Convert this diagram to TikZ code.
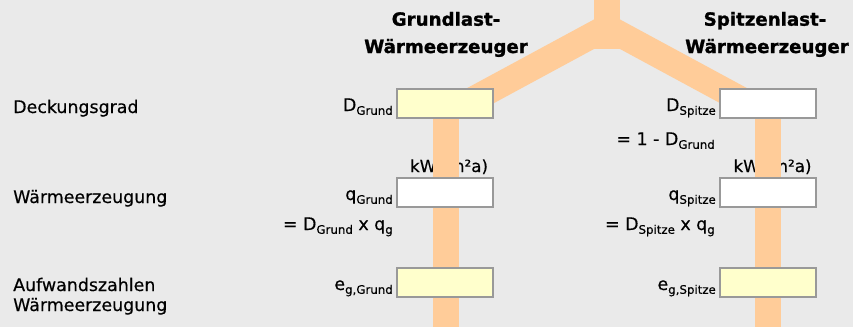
\documentclass[tikz,border=0pt]{standalone}
\usepackage{fontspec}
\setmainfont{DejaVu Sans}[FakeBold=0.4, BoldFeatures={FakeBold=1.2}]
\definecolor{bg}{HTML}{EAEAEA}
\definecolor{pipe}{HTML}{FFCC99}
\definecolor{inputfill}{HTML}{FFFFCC}
\definecolor{frame}{HTML}{999999}
% lowered, smaller index text
\newcommand{\lo}[1]{\raisebox{-3.8pt}{\fontsize{11.8}{12}\selectfont #1}}
\begin{document}
\begin{tikzpicture}[x=1pt,y=-1pt,
  txt/.style={inner sep=0pt, font=\fontsize{17.4}{20}\selectfont},
  rowlabel/.style={txt, anchor=base west},
  lbl/.style={txt, anchor=base east},
  head/.style={inner sep=0pt, font=\fontsize{18.2}{21}\selectfont\bfseries, anchor=base},
  unit/.style={inner sep=0pt, font=\fontsize{16.7}{20}\selectfont, anchor=base},
  pipeline/.style={draw=pipe, line width=26pt},
  field/.style={draw=frame, line width=2pt, minimum width=96pt, minimum height=29pt, inner sep=0pt},
  inbox/.style={field, fill=inputfill},
  outbox/.style={field, fill=white}]
\useasboundingbox[fill=bg] (0,0) rectangle (853,327);

% column headings
\node[head] (hG1) at (446,25.7) {Grundlast-};
\node[head] (hG2) at (446,53) {Wärmeerzeuger};
\node[head] (hS1) at (765,25.7) {Spitzenlast-};
\node[head] (hS2) at (767,53) {Wärmeerzeuger};

% row captions
\node[rowlabel] (rD) at (13,113) {Deckungsgrad};
\node[rowlabel] (rQ) at (13,203) {Wärmeerzeugung};
\node[rowlabel] (rE1) at (13,291) {Aufwandszahlen};
\node[rowlabel] (rE2) at (13,311) {Wärmeerzeugung};

% units (lie beneath the supply lines)
\node[unit] (uG) at (449,172) {kW/(m²a)};
\node[unit] (uS) at (772.5,172) {kW/(m²a)};

% supply lines
\coordinate (top) at (607,0);
\coordinate (fork) at (607,49);
\coordinate (split) at (607,27.2);
\coordinate (endG) at (472,100.2);
\coordinate (endS) at (742,100.2);
\coordinate (startG) at (446,100);
\coordinate (bottomG) at (446,327);
\coordinate (startS) at (768,100);
\coordinate (bottomS) at (768,327);
\draw[pipeline] (top) -- (fork);
\draw[pipeline] (split) -- (endG);
\draw[pipeline] (split) -- (endS);
\draw[pipeline] (startG) -- (bottomG);
\draw[pipeline] (startS) -- (bottomS);

% input / result fields
\node[inbox]  (dG) at (445,103.5) {};
\node[outbox] (dS) at (767.5,103.5) {};
\node[outbox] (qG) at (445,192.5) {};
\node[outbox] (qS) at (767.5,192.5) {};
\node[inbox]  (eG) at (445,282) {};
\node[inbox]  (eS) at (767.5,282) {};

% field labels
\node[lbl] (ldG) at (393,111) {D\lo{Grund}};
\node[lbl] (ldS) at (716,111) {D\lo{Spitze}};
\node[lbl] (fdS) at (715,145) {= 1 - D\lo{Grund}};
\node[lbl] (lqG) at (393,200) {q\lo{Grund}};
\node[lbl] (fqG) at (393,230) {= D\lo{Grund} x q\lo{g}};
\node[lbl] (lqS) at (716,200) {q\lo{Spitze}};
\node[lbl] (fqS) at (715,230) {= D\lo{Spitze} x q\lo{g}};
\node[lbl] (leG) at (393,290) {e\lo{g,Grund}};
\node[lbl] (leS) at (716,290) {e\lo{g,Spitze}};
\end{tikzpicture}
\end{document}
